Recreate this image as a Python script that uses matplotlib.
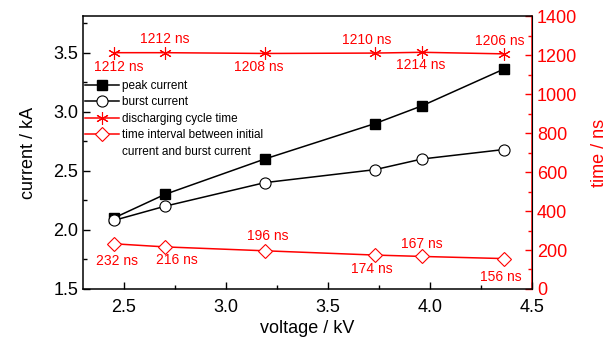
import matplotlib
matplotlib.use("Agg")
import matplotlib.pyplot as plt
from matplotlib.lines import Line2D
from matplotlib.ticker import MultipleLocator

plt.rcParams["font.family"] = ["Liberation Sans", "DejaVu Sans"]

# data
voltage = [2.45, 2.70, 3.19, 3.73, 3.96, 4.36]
peak_current = [2.10, 2.30, 2.60, 2.90, 3.05, 3.36]
burst_current = [2.08, 2.20, 2.40, 2.51, 2.60, 2.68]
cycle_time = [1212, 1212, 1208, 1210, 1214, 1206]
interval_time = [232, 216, 196, 174, 167, 156]

# label offsets in pixels (dx, dy)
cycle_offsets = [(5, -14), (0, 14), (-6, -14), (-8, 13), (-1, -13), (-4, 13)]
interval_offsets = [(3, -17), (12, -13), (3, 15), (-3, -14), (0, 12), (-3, -18)]

fig = plt.figure(figsize=(6.11, 3.41), dpi=100)
ax = fig.add_axes([0.136, 0.1525, 0.735, 0.8005])
ax2 = ax.twinx()

red = "#ff0000"

ax.plot(voltage, peak_current, color="black", lw=1.1, marker="s", ms=6.5,
        mfc="black", mec="black", label="peak current")
ax.plot(voltage, burst_current, color="black", lw=1.1, marker="o", ms=8,
        mfc="white", mec="black", mew=0.8, label="burst current")
ax2.plot(voltage, cycle_time, color=red, lw=1.1, marker=(6, 2, 0), ms=9,
         mec=red, mew=0.8, label="discharging cycle time")
ax2.plot(voltage, interval_time, color=red, lw=1.1, marker="D", ms=7,
         mfc="white", mec=red, mew=0.8,
         label="time interval between initial")

for x, y, off in zip(voltage, cycle_time, cycle_offsets):
    ax2.annotate(f"{y} ns", (x, y), xytext=off, textcoords="offset pixels",
                 ha="center", va="center", color=red, fontsize=10)
for x, y, off in zip(voltage, interval_time, interval_offsets):
    ax2.annotate(f"{y} ns", (x, y), xytext=off, textcoords="offset pixels",
                 ha="center", va="center", color=red, fontsize=10)

ax.set_xlim(2.3, 4.5)
ax.set_ylim(1.5, 3.81)
ax2.set_ylim(0, 1400)

ax.xaxis.set_major_locator(MultipleLocator(0.5))
ax.xaxis.set_minor_locator(MultipleLocator(0.25))
ax.yaxis.set_major_locator(MultipleLocator(0.5))
ax.yaxis.set_minor_locator(MultipleLocator(0.25))
ax2.yaxis.set_major_locator(MultipleLocator(200))
ax2.yaxis.set_minor_locator(MultipleLocator(100))

ax.tick_params(which="both", direction="in", labelsize=13, width=1)
ax.tick_params(which="major", length=5)
ax.tick_params(which="minor", length=3)
ax.tick_params(axis="x", pad=7)
ax2.tick_params(which="both", direction="in", labelsize=13, width=1,
                colors=red)
ax2.tick_params(which="major", length=5)
ax2.tick_params(which="minor", length=3)

for s in ["left", "bottom", "top"]:
    ax.spines[s].set_linewidth(1.1)
ax2.spines["right"].set_color(red)
ax2.spines["right"].set_linewidth(1.1)
ax2.spines["left"].set_visible(False)
ax2.spines["top"].set_visible(False)
ax2.spines["bottom"].set_visible(False)

ax.set_xlabel("voltage / kV", fontsize=13, labelpad=3)
ax.set_ylabel("current / kA", fontsize=13, labelpad=12)
ax2.set_ylabel("time / ns", fontsize=13, color=red, labelpad=10)

h1, l1 = ax.get_legend_handles_labels()
h2, l2 = ax2.get_legend_handles_labels()
extra = Line2D([], [], color="none")
leg = ax.legend(h1 + h2 + [extra], l1 + l2 + ["current and burst current"],
                loc="upper left", bbox_to_anchor=(0.0, 0.775), frameon=False,
                fontsize=8.5, handlelength=2.8, handletextpad=0.3,
                labelspacing=0.38, borderpad=0, borderaxespad=0.2)
ax.set_zorder(ax2.get_zorder() + 1)
ax.patch.set_visible(False)

fig.savefig("out.png", dpi=100)
